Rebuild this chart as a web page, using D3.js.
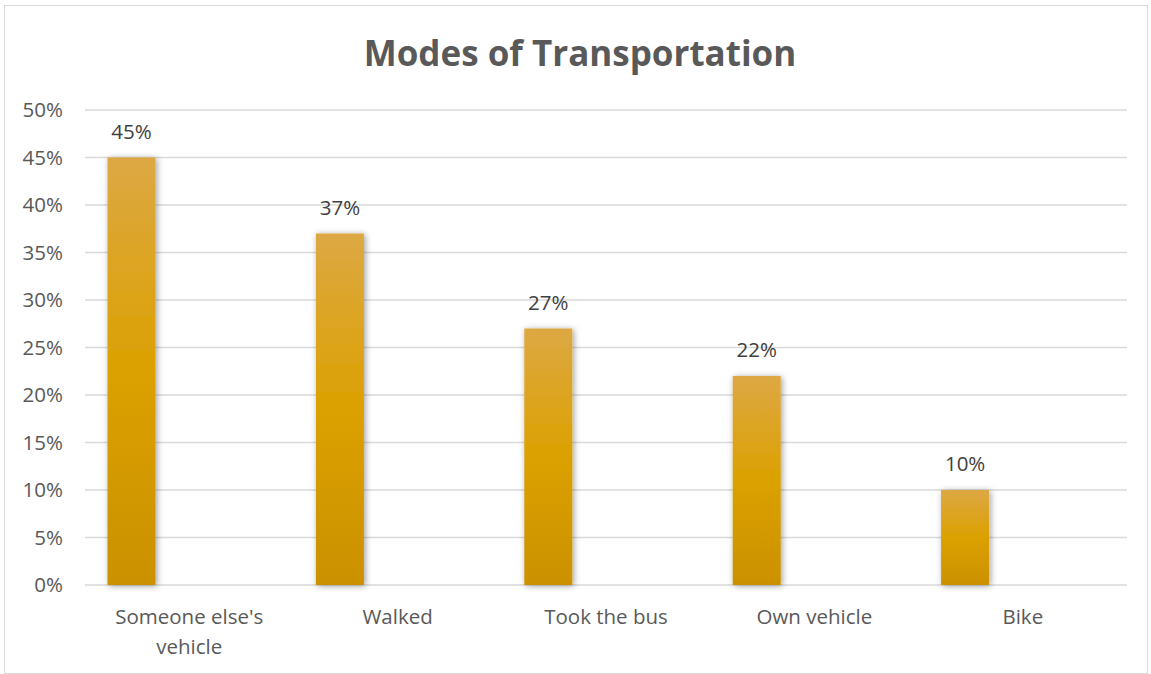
<!DOCTYPE html>
<html><head><meta charset="utf-8">
<script src="https://cdn.jsdelivr.net/npm/d3@7"></script>
<style>body{margin:0;background:#fff}text{font-family:"Open Sans",sans-serif}</style>
</head><body><svg id="c" width="1151" height="674"></svg>
<script>
const categories = ["Someone else's vehicle", "Walked", "Took the bus", "Own vehicle", "Bike"];
const categoryLines = [["Someone else's", "vehicle"], ["Walked"], ["Took the bus"], ["Own vehicle"], ["Bike"]];
const values = [0.45, 0.37, 0.27, 0.22, 0.10];
const yTicks = [0, 0.05, 0.10, 0.15, 0.20, 0.25, 0.30, 0.35, 0.40, 0.45, 0.50];
const titleText = "Modes of Transportation";

const svg = d3.select("#c");
const W = 1151, H = 674;
const m = {left: 85, right: 24, top: 110, bottom: 89};

svg.append("rect").attr("x", 4.5).attr("y", 5.5).attr("width", 1143).attr("height", 668)
  .attr("fill", "#fff").attr("stroke", "#d9d9d9").attr("stroke-width", 1);

const defs = svg.append("defs");
const g1 = defs.append("linearGradient").attr("id", "barg").attr("x1", 0).attr("y1", 0).attr("x2", 0).attr("y2", 1);
g1.append("stop").attr("offset", "0%").attr("stop-color", "#DDA844");
g1.append("stop").attr("offset", "50%").attr("stop-color", "#DBA100");
g1.append("stop").attr("offset", "100%").attr("stop-color", "#CB9100");
const f = defs.append("filter").attr("id", "sh").attr("x", "-30%").attr("y", "-10%").attr("width", "160%").attr("height", "120%");
f.append("feDropShadow").attr("dx", 1.5).attr("dy", 1).attr("stdDeviation", 3).attr("flood-color", "#000").attr("flood-opacity", 0.38);

const x = d3.scaleBand().domain(categories).range([m.left, W - m.right]);
const y = d3.scaleLinear().domain([0, 0.5]).range([H - m.bottom, m.top]);
const inner = d3.scaleBand().domain(["a", "b"]).range([0, x.bandwidth()]).paddingInner(0.584).paddingOuter(0.195);

svg.append("g").selectAll("line").data(yTicks).join("line")
  .attr("x1", m.left).attr("x2", W - m.right)
  .attr("y1", d => y(d)).attr("y2", d => y(d))
  .attr("stroke", "#d9d9d9").attr("stroke-width", 1.3);

svg.append("g").selectAll("text").data(yTicks).join("text")
  .attr("x", 63).attr("y", d => y(d)).attr("dy", "0.35em").attr("text-anchor", "end")
  .attr("fill", "#595959").attr("font-size", 20.5).text(d => d3.format(".0%")(d));

const bw = inner.bandwidth();
svg.append("g").selectAll("rect").data(values).join("rect")
  .attr("x", (d, i) => x(categories[i]) + inner("a"))
  .attr("y", d => y(d)).attr("width", bw).attr("height", d => y(0) - y(d))
  .attr("fill", "url(#barg)").attr("filter", "url(#sh)");

svg.append("g").selectAll("text").data(values).join("text")
  .attr("x", (d, i) => x(categories[i]) + inner("a") + bw / 2)
  .attr("y", d => y(d) - 19).attr("text-anchor", "middle")
  .attr("fill", "#404040").attr("font-size", 20.5).text(d => d3.format(".0%")(d));

const cl = svg.append("g").selectAll("text").data(categories).join("text")
  .attr("x", d => x(d) + x.bandwidth() / 2).attr("y", 624).attr("text-anchor", "middle")
  .attr("fill", "#595959").attr("font-size", 20.5);
cl.each(function(d, i) {
  d3.select(this).selectAll("tspan").data(categoryLines[i]).join("tspan")
    .attr("x", x(d) + x.bandwidth() / 2).attr("dy", (t, j) => j === 0 ? 0 : 30).text(t => t);
});

svg.append("text").attr("x", 580).attr("y", 66).attr("text-anchor", "middle")
  .attr("fill", "#595959").attr("font-size", 35).attr("font-weight", "bold").text(titleText);
</script></body></html>
